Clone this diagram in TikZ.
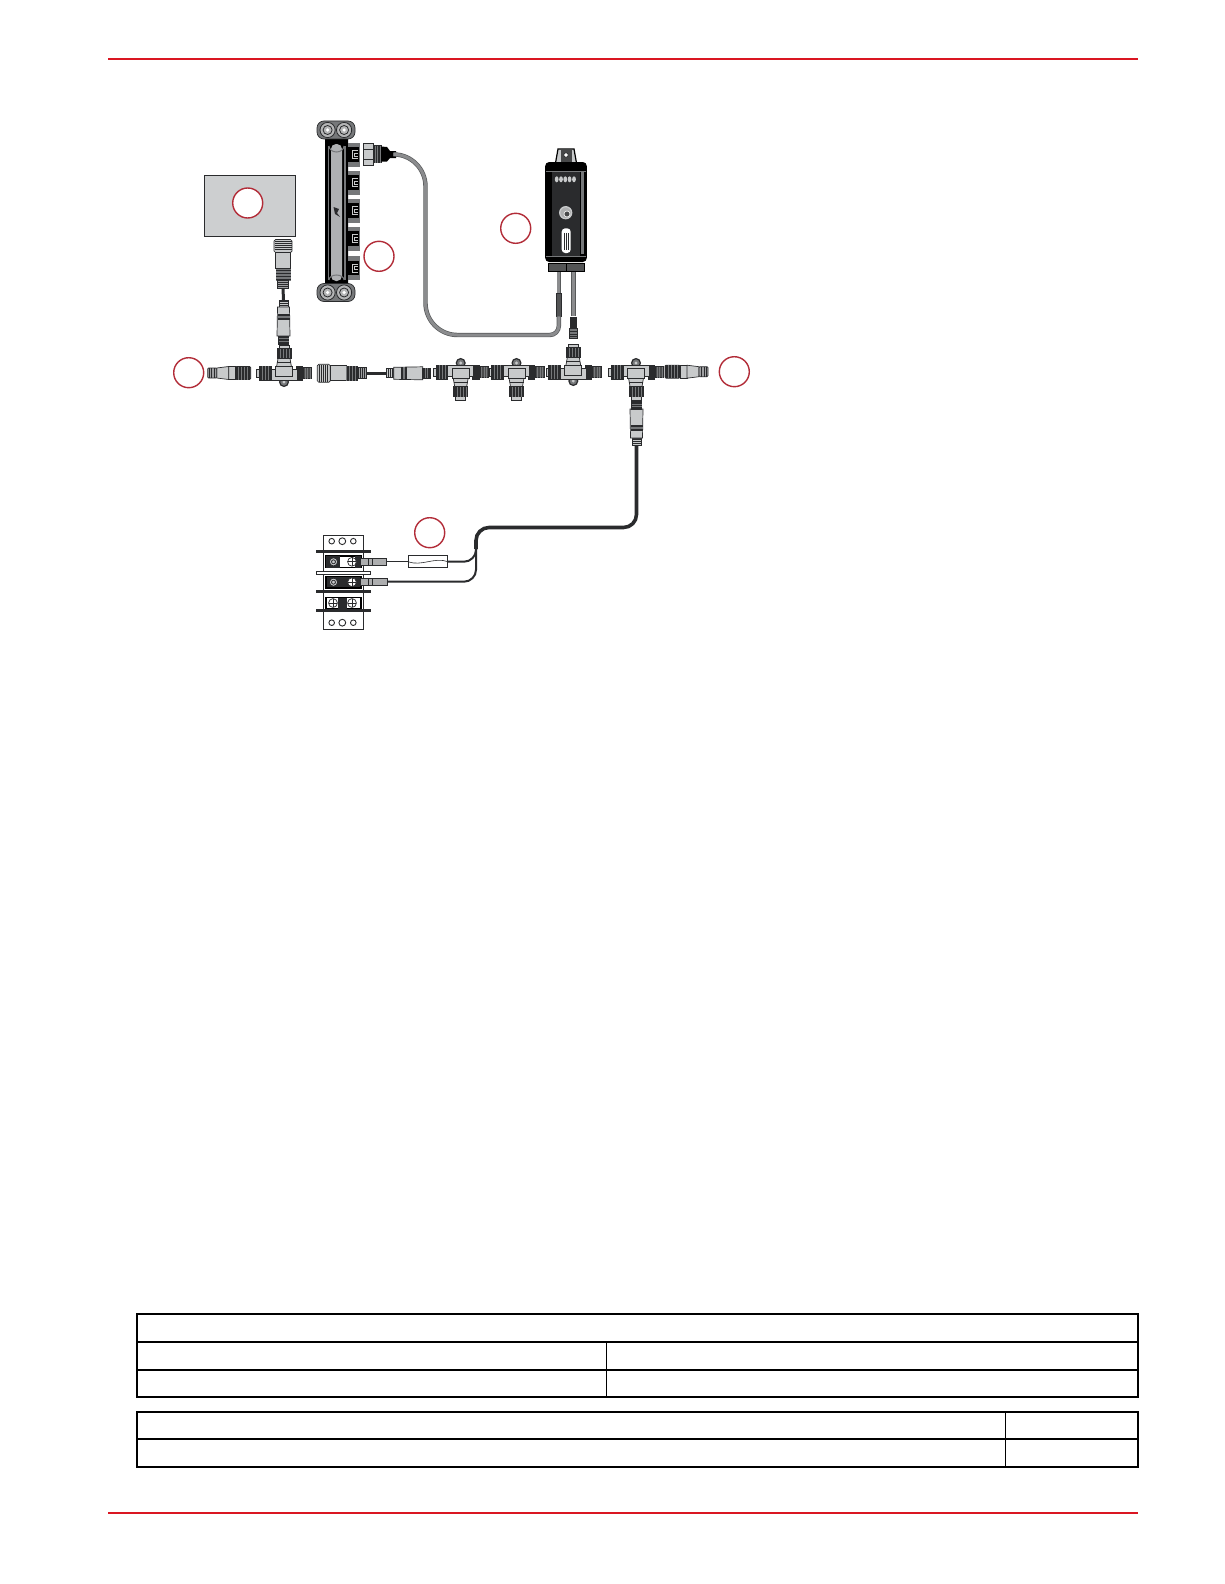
\documentclass[tikz,border=0pt]{standalone}
\usepackage{xcolor}
\usetikzlibrary{arrows.meta,positioning,calc}
\definecolor{rulered}{RGB}{218,22,34}
\definecolor{callred}{RGB}{178,44,56}
\definecolor{boxgray}{RGB}{205,207,208}
\definecolor{plugdark}{RGB}{42,43,45}
\definecolor{plugmid}{RGB}{118,120,122}
\definecolor{pluglight}{RGB}{200,202,203}
\tikzset{
    callout/.style={circle, draw=callred, fill=white, line width=1.4pt, minimum size=30pt, inner sep=0pt},
    pagerule/.style={draw=rulered, line width=2.1pt},
    tableline/.style={draw=black, line width=2pt},
    tablesplit/.style={draw=black, line width=1.3pt},
    blackcable/.style={draw=plugdark, line width=3.6pt},
    thinwire/.style={draw=plugdark, line width=2pt},
    graycable/.style={draw=plugmid!75!black, line width=.7pt, double=plugmid!85!white, double distance=3pt},
    outline/.style={draw=plugdark, line width=.7pt},
    ridges/.style={draw=plugdark, line width=.8pt},
    tee/.pic={
        % left and right arms
        \filldraw[outline, fill=pluglight] (-27.3,-4) rectangle (-24.7,4);
        \filldraw[outline, fill=plugdark] (-24.7,-7) rectangle (-13,7);
        \foreach \gap in {-22,-19,-16} {\draw[plugmid, line width=.4pt] (\gap,-7) -- (\gap,7);}
        \filldraw[outline, fill=plugdark] (12,-7) rectangle (18.3,7);
        \filldraw[outline, fill=plugdark!85] (19.3,-5.5) rectangle (27.7,5.5);
        \foreach \gap in {21,23.5,26} {\draw[plugmid, line width=.5pt] (\gap,-5.5) -- (\gap,5.5);}
        % lug
        \filldraw[draw=plugdark, fill=plugmid, line width=1.2pt] (0,-9) circle (4.4);
        \fill[pluglight] (0,-9) circle (1.6);
        % stem and centre block
        \filldraw[outline, fill=pluglight] (-5,24) rectangle (5,28);
        \filldraw[outline, fill=plugdark] (-7,14.5) rectangle (7,24.5);
        \foreach \gap in {-4,-1,2,5} {\draw[plugmid, line width=.4pt] (\gap,14.5) -- (\gap,24.5);}
        \filldraw[outline, fill=pluglight] (-7.5,6) -- (7.5,6) -- (6,14.5) -- (-6,14.5) -- cycle;
        \draw[plugdark, line width=.5pt] (-7,10.5) -- (7,10.5);
        \filldraw[outline, fill=pluglight] (-13,-7) rectangle (13,4);
        \filldraw[outline, fill=pluglight] (-8.5,-3.7) rectangle (8.5,6.5);
    },
    maleplug/.pic={
        \filldraw[outline, fill=pluglight] (0,-4.5) rectangle (7,4.5);
        \foreach \gap in {1.5,3.5,5.5} {\draw[ridges] (\gap,-4.5) -- (\gap,4.5);}
        \filldraw[outline, fill=pluglight] (7,-6) -- (36,-6.5) -- (36,6.5) -- (7,6) -- cycle;
        \fill[plugdark] (14,-6) rectangle (16,6);
        \fill[plugmid] (16,-6) rectangle (18,6);
        \fill[plugdark] (18,-6) rectangle (20,6);
        \filldraw[outline, fill=plugdark] (36,-5) rectangle (44,5);
        \foreach \gap in {38.5,41} {\draw[plugmid, line width=.5pt] (\gap,-5) -- (\gap,5);}
    },
    femaleplug/.pic={
        \filldraw[outline, fill=pluglight, rounded corners=1.5pt] (0,-9) rectangle (13,9);
        \foreach \gap in {2,4,6,8,10} {\draw[plugdark, line width=.6pt] (\gap,-8.5) -- (\gap,8.5);}
        \filldraw[outline, fill=pluglight] (13,-7.5) -- (29,-7.5) -- (29,7.5) -- (13,7.5) -- cycle;
        \fill[plugmid] (29,-7.5) rectangle (41,7.5);
        \foreach \gap in {30,33,36,39} {\fill[plugdark] (\gap,-7.5) rectangle (\gap+1.4,7.5);}
        \filldraw[outline, fill=plugmid!70!white] (41,-5.5) rectangle (49,5.5);
        \foreach \gap in {43,45,47} {\draw[ridges] (\gap,-5.5) -- (\gap,5.5);}
    },
    endcap/.pic={
        \filldraw[outline, fill=plugdark, rounded corners=1pt] (0,-6.5) rectangle (15,6.5);
        \foreach \gap in {3,6,9,12} {\draw[plugmid, line width=.5pt] (\gap,-6.5) -- (\gap,6.5);}
        \filldraw[outline, fill=pluglight] (15,-6.5) rectangle (22,6.5);
        \filldraw[outline, fill=pluglight] (22,-6.5) -- (34,-5) -- (34,5) -- (22,6.5) -- cycle;
        \filldraw[outline, fill=plugmid!70!white, rounded corners=1pt] (34,-5) rectangle (43,5);
        \foreach \gap in {36.5,39,41.5} {\draw[ridges] (\gap,-5) -- (\gap,5);}
    },
    busport/.pic={
        \fill[plugmid] (0,-12) rectangle (12,12);
        \fill[black] (0,-7.5) rectangle (11,7);
        \draw[pluglight, line width=.9pt] (9.5,-4) -- (4.5,-4) -- (4.5,4) -- (9.5,4) (9.5,-1.5) -- (6.8,-1.5) -- (6.8,1.5) -- (9.5,1.5);
    },
    buscap/.pic={
        \filldraw[draw=plugdark, fill=plugmid, line width=.7pt, rounded corners=7pt] (-19,-9) rectangle (19,9);
        \foreach \xx in {-8.4,8.1} {
            \filldraw[draw=plugdark, fill=plugmid!55!white, line width=.8pt] (\xx,0) circle (7.6);
            \draw[plugdark, line width=.8pt] (\xx,0) circle (4.5);
            \fill[white] (\xx,0) circle (1.8);
        }
    },
    crossbolt/.pic={
        \draw[plugdark, fill=white, line width=.7pt] (0,0) circle (4.4);
        \draw[plugdark, line width=.7pt] (-4.4,0) -- (4.4,0) (0,-4.4) -- (0,4.4);
    },
    ringbolt/.pic={
        \filldraw[draw=plugdark, fill=pluglight, line width=1pt] (0,0) circle (4.2);
        \draw[plugdark, line width=.8pt] (0,0) circle (2);
    }
}
\begin{document}
\begin{tikzpicture}[x=1pt, y=-1pt]
    \useasboundingbox (0,0) rectangle (1224,1584);

    % Page rules
    \coordinate (ruletopl) at (108,59);
    \coordinate (ruletopr) at (1137.7,59);
    \coordinate (rulebotl) at (108,1513);
    \coordinate (rulebotr) at (1137.7,1513);
    \draw[pagerule] (ruletopl) -- (ruletopr);
    \draw[pagerule] (rulebotl) -- (rulebotr);

    % Display box
    \node[draw=plugdark, fill=boxgray, line width=.8pt, minimum width=91.4pt, minimum height=61.4pt, inner sep=0pt] (display) at (250,206) {};

    % Backbone bar
    \fill[black, rounded corners=4pt] (325,135) rectangle (348,287);
    \fill[plugmid] (328,146) rectangle (329.3,280);
    \fill[plugmid] (343.8,146) rectangle (345.8,280);
    \fill[pluglight!70!plugmid, rounded corners=5pt] (331,144) rectangle (342,281);
    \pic at (336,130) {buscap};
    \pic at (336,292.5) {buscap};
    \draw[plugmid, line width=1pt] (329,146) arc[start angle=180, end angle=0, x radius=7.5, y radius=6];
    \draw[plugmid, line width=1pt] (329,280) arc[start angle=180, end angle=360, x radius=7.5, y radius=5];
    \foreach \porty in {154.7,182.5,210.5,238.5,268} {\pic at (348,\porty) {busport};}
    \fill[plugdark] (333.5,207) -- (339,209) -- (337,213) -- (340,217) -- (335,214) -- cycle;

    % Plug on the backbone
    \filldraw[outline, fill=pluglight] (363.3,143) rectangle (373.3,165);
    \draw[plugdark, line width=.7pt] (363.3,149) -- (373.3,149) (363.3,159) -- (373.3,159);
    \filldraw[outline, fill=plugdark] (373.3,145.5) rectangle (381,162.5);
    \foreach \gap in {375,377.5,380} {\draw[plugmid, line width=.6pt] (\gap,145.5) -- (\gap,162.5);}
    \fill[black] (381,146.5) -- (387,147) -- (390,151) -- (396,151) -- (396,158) -- (390,158) -- (387,161.5) -- (381,161.5) -- cycle;
    \node[fill=black, minimum width=2pt, minimum height=7pt, inner sep=0pt] (barplug) at (395,154.4) {};

    % Gateway
    \filldraw[draw=black, fill=pluglight, line width=1.2pt] (555.5,163) -- (558,149) -- (574,149) -- (576.5,163) -- cycle;
    \fill[plugmid!60!black] (560.5,149.8) rectangle (571.5,163);
    \filldraw[draw=plugdark, fill=white, line width=.6pt] (566,155) circle (2.2);
    \node[fill=black, minimum width=41.6pt, minimum height=100pt, inner sep=0pt, rounded corners=4pt] (gateway) at (566,212) {};
    \fill[plugdark] (551.5,171) rectangle (580,256);
    \fill[plugmid] (580.5,171) rectangle (583.5,254);
    \draw[plugmid, line width=.6pt] (546,171) -- (586,171) (546,256) -- (586,256);
    \foreach \ledx in {556.7,561,565.3,569.6,574} {\fill[pluglight] (\ledx,179.3) ellipse (1.9 and 3);}
    \filldraw[draw=pluglight, fill=plugmid!60!white, line width=1.3pt] (565.7,212.7) circle (6);
    \filldraw[draw=white, fill=plugmid!60!black, line width=.6pt] (567,214) circle (3);
    \fill[white, rounded corners=3.5pt] (561.7,228.3) rectangle (570.7,253);
    \foreach \labx in {564,566,568.2} {\draw[plugdark, line width=.6pt] (\labx,233) -- (\labx,250);}
    \node[draw=black, fill=plugmid!70!black, line width=1.2pt, minimum width=36pt, minimum height=8.5pt, inner sep=0pt] (gatefoot) at (566.6,267.5) {};
    \draw[black, line width=1pt] (566.6,263) -- (566.6,272);

    % Grey cables
    \node[draw=plugdark, fill=plugmid!70!black, line width=.5pt, minimum width=4.5pt, minimum height=23pt, inner sep=0pt] (gatesplice) at (558.8,304.5) {};
    \coordinate (cablelow) at (425.5,335);
    \draw[graycable, rounded corners=32pt] (barplug.east) -| (cablelow) [rounded corners=9pt] -| (gatesplice.south);
    \coordinate (gatetail) at (558.8,272);
    \draw[graycable] (gatesplice.north) -- (gatetail);
    \node[fill=plugdark, minimum width=7pt, minimum height=12pt, inner sep=0pt] (gateplug) at (573.3,322.5) {};
    \filldraw[outline, fill=plugmid] (569.3,328) rectangle (577.7,338.3);
    \foreach \gap in {331,334,336.5} {\draw[ridges] (569.3,\gap) -- (577.7,\gap);}
    \coordinate (gatedrop) at (573.3,272);
    \draw[graycable] (gatedrop) -- (gateplug.north);

    % Backbone run
    \pic at (250.7,373) [xscale=-1] {endcap};
    \pic at (284,373) [yscale=-1] {tee};
    \pic at (317.3,373.3) {femaleplug};
    \coordinate (femaleend) at (366.7,373.3);
    \coordinate (maleend) at (386.7,373.3);
    \draw[blackcable, line width=3pt] (femaleend) -- (maleend);
    \pic at (maleend) {maleplug};
    \pic at (460.7,372) {tee};
    \pic at (516.5,372) {tee};
    \pic at (573.3,372) [yscale=-1] {tee};
    \pic at (636,372) {tee};
    \pic at (665,371.7) {endcap};

    % Display drop
    \pic at (283,239.5) [rotate=-90] {femaleplug};
    \coordinate (dropa) at (283,288.5);
    \coordinate (dropb) at (283.5,300);
    \draw[blackcable, line width=3pt] (dropa) -- (dropb);
    \pic at (dropb) [rotate=-90] {maleplug};

    % Power cable
    \coordinate (powerend) at (636.5,445);
    \pic at (powerend) [rotate=90] {maleplug};
    \coordinate (splitpoint) at (476,549);
    \coordinate (powerbend) at (476,527.5);
    \draw[blackcable, rounded corners=13pt] (powerend) |- (powerbend) -- (splitpoint);

    % Terminal block
    \node[draw=plugdark, line width=1.2pt, fill=white, minimum width=40pt, minimum height=93.5pt, inner sep=0pt] (terminal) at (343.3,582.4) {};
    \foreach \bary in {551.7,591.7,610.7} {\fill[plugdark] (316,\bary-1.4) rectangle (370.5,\bary+1.4);}
    \filldraw[draw=plugdark, fill=white, line width=.6pt] (316,570.8) rectangle (370.5,573.8);
    \foreach \holex/\holer in {331.7/2.8,342.3/3.4,353.3/2.8} {
        \draw[plugdark, line width=.9pt] (\holex,541.2) circle (\holer);
        \draw[plugdark, line width=.9pt] (\holex,622.7) circle (\holer);
    }
    \filldraw[draw=black, fill=white, line width=1.4pt] (326,556) rectangle (361,567.7);
    \fill[plugdark] (326,556) rectangle (340,567.7);
    \fill[plugdark] (355,556) rectangle (361,567.7);
    \filldraw[draw=black, fill=plugdark, line width=1.2pt] (326,576.5) rectangle (361,588);
    \filldraw[draw=black, fill=white, line width=1.4pt] (326,597.5) rectangle (361,608.5);
    \fill[plugdark] (338,597.5) rectangle (347,608.5);
    \pic at (333.5,561.8) {ringbolt}; \pic at (352,561.8) {crossbolt};
    \pic at (333.5,582.2) {ringbolt}; \pic at (352,582.2) {crossbolt};
    \pic at (333,603) {crossbolt}; \pic at (352,603) {crossbolt};

    % Ring terminals and wires
    \node[draw=plugdark, fill=plugmid!60, line width=.7pt, minimum width=26.5pt, minimum height=6.5pt, inner sep=0pt] (ringa) at (373.3,561.7) {};
    \node[draw=plugdark, fill=plugmid!60, line width=.7pt, minimum width=27.5pt, minimum height=6.5pt, inner sep=0pt] (ringb) at (373.7,581.7) {};
    \draw[ridges] (368,558.5) -- (368,565) (372,558.5) -- (372,565) (368,578.5) -- (368,585) (372,578.5) -- (372,585);
    \node[draw=plugdark, fill=white, line width=.8pt, minimum width=39.4pt, minimum height=12pt, inner sep=0pt] (fuse) at (428,561.7) {};
    \draw[plugdark, line width=.6pt] (fuse.west) .. controls ([xshift=14pt,yshift=-5pt]fuse.west) and ([xshift=-14pt,yshift=5pt]fuse.east) .. (fuse.east);
    \draw[thinwire, line width=1.5pt] (ringa) -- (fuse);
    \draw[thinwire, rounded corners=12pt] (fuse) -| (splitpoint);
    \draw[thinwire, rounded corners=12pt] (ringb) -| (splitpoint);

    % Callouts
    \node[callout] (calldisplay) at (247.7,203) {};
    \node[callout] (callbar) at (379,256.3) {};
    \node[callout] (callgateway) at (515.7,228.3) {};
    \node[callout] (callleft) at (188.7,372.7) {};
    \node[callout] (callright) at (734.3,371.7) {};
    \node[callout] (callfuse) at (429.7,532.7) {};

    % Tables
    \draw[tableline] (137,1314) rectangle (1138,1397);
    \draw[tableline] (137,1342) -- (1138,1342);
    \draw[tableline] (137,1370) -- (1138,1370);
    \draw[tablesplit] (606.5,1342) -- (606.5,1397);
    \draw[tableline] (137,1412) rectangle (1138,1467);
    \draw[tableline] (137,1439) -- (1138,1439);
    \draw[tablesplit] (1005.5,1412) -- (1005.5,1467);

\end{tikzpicture}
\end{document}
